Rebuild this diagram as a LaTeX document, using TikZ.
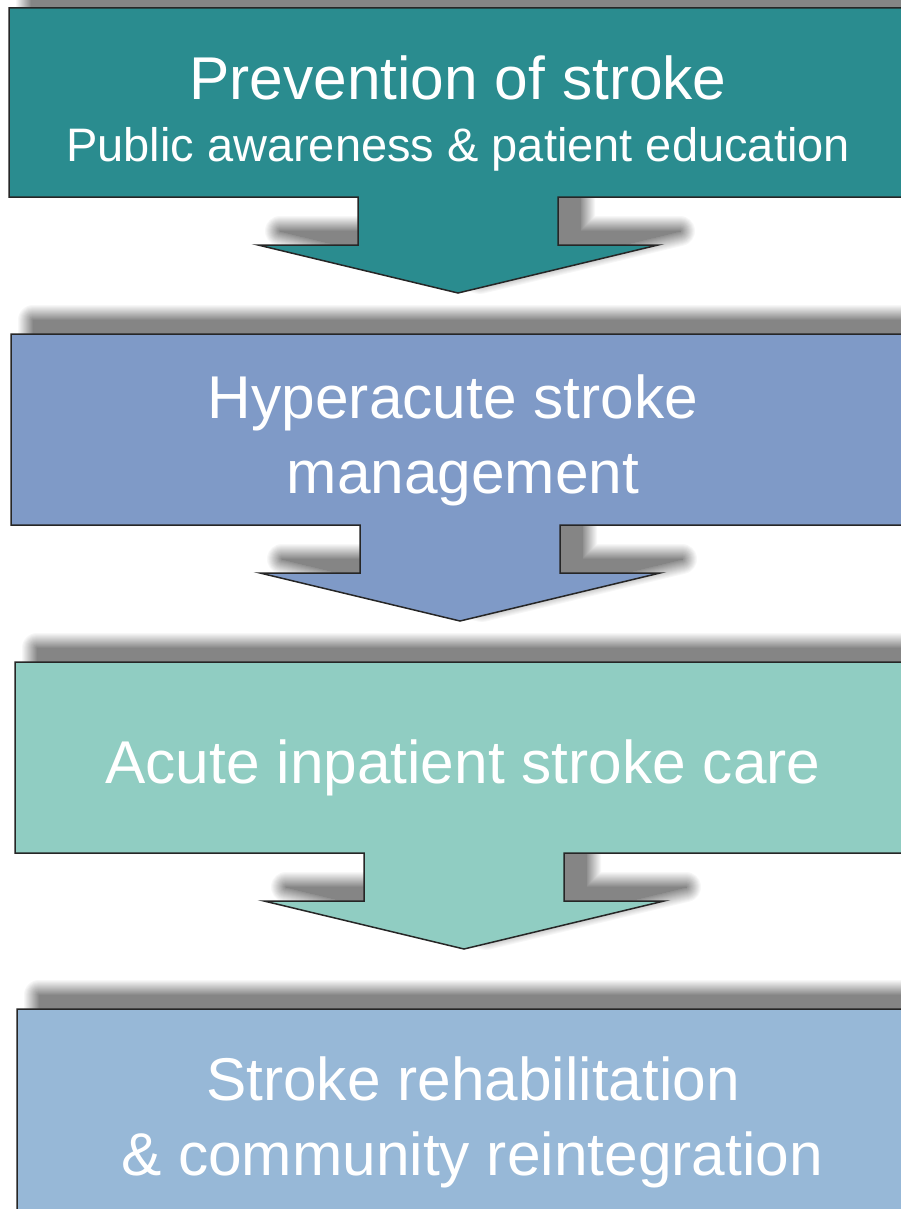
\documentclass[tikz,border=0pt]{standalone}
\usepackage{fontspec}
\setmainfont{Liberation Sans}

\definecolor{prevcol}{HTML}{2A8C8F}
\definecolor{hypercol}{HTML}{7F9AC7}
\definecolor{acutecol}{HTML}{90CDC2}
\definecolor{rehabcol}{HTML}{97B8D7}

% box with a down arrow: left, top, bottom, centre
\newcommand{\callout}[4]{(#1,#2) -- ({2*#4-#1},#2) -- ({2*#4-#1},#3) -- (#4+100,#3) -- (#4+100,#3+48) -- (#4+200,#3+48) -- (#4,#3+96) -- (#4-200,#3+48) -- (#4-100,#3+48) -- (#4-100,#3) -- (#1,#3) -- cycle}

\tikzset{
  bigtext/.style={text=white, anchor=base, font=\fontsize{60.4}{72}\selectfont},
  subtext/.style={text=white, anchor=base, font=\fontsize{47}{56}\selectfont}
}

\begin{document}
\begin{tikzpicture}[x=1pt, y=-1pt]
\useasboundingbox (0,0) rectangle (901,1209);
\clip (0,0) rectangle (901,1209);
% Shadows
\foreach \l/\t/\b/\c in {9/8/197/458, 11/334/525/460, 15/662/853/464, 17/1009/1215/468} {
  \foreach \k [evaluate=\k as \tone using int(3*\k), evaluate=\k as \lw using 2*(16-\k)] in {1,...,16}
    \filldraw[shift={(22,-14)}, fill=black!\tone, draw=black!\tone, line width=\lw pt, line join=round] \callout{\l}{\t}{\b}{\c};
}
% Boxes
\foreach \l/\t/\b/\c/\col in {9/8/197/458/prevcol, 11/334/525/460/hypercol, 15/662/853/464/acutecol, 17/1009/1215/468/rehabcol} {
  \filldraw[fill=\col, draw=black!85, line width=1.5pt] \callout{\l}{\t}{\b}{\c};
}
% Texts
\node[bigtext] (prev) at (458,100) {Prevention of stroke};
\node[subtext] (prevsub) at (458,162) {Public awareness \& patient education};
\node[bigtext] (hyper) at (453,418) {Hyperacute stroke};
\node[bigtext] (hypersub) at (463,493) {management};
\node[bigtext] (acute) at (463,783) {Acute inpatient stroke care};
\node[bigtext] (rehab) at (473,1100) {Stroke rehabilitation};
\node[bigtext] (rehabsub) at (472,1175) {\& community reintegration};
\end{tikzpicture}
\end{document}
